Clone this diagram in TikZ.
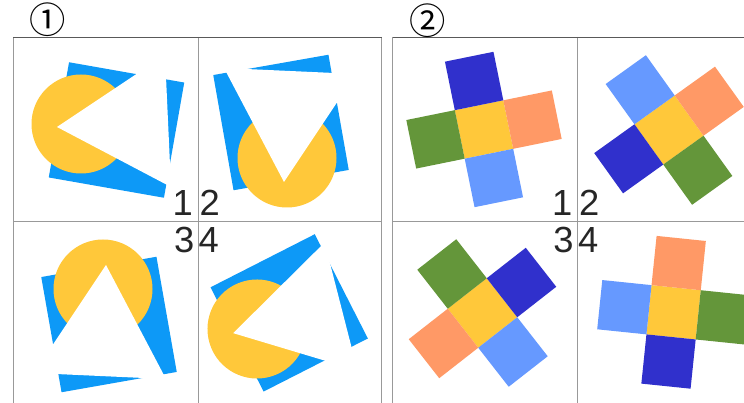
\documentclass[tikz,border=0pt]{standalone}
\usepackage{fontspec}
\setmainfont{Liberation Sans}
\newfontfamily\circfont{Noto Sans CJK JP}
\usetikzlibrary{positioning}
\definecolor{skyb}{HTML}{0D99F7}
\definecolor{sun}{HTML}{FFC83A}
\definecolor{dkblue}{HTML}{3030CC}
\definecolor{ltblue}{HTML}{6699FF}
\definecolor{peach}{HTML}{FF9966}
\definecolor{leaf}{HTML}{64963A}
\newcommand{\pacfig}{%
\fill[skyb] (-11.95,-61.75) -- (103.25,-41.45) -- (82.95,73.75) -- (-32.25,53.45) -- cycle;
\fill[sun] (0,0) circle (49.5);
\fill[white] (-24,3) -- (84,-69) -- (90,63) -- cycle;}
\newcommand{\crossfig}[4]{%
\fill[sun] (-24.75,-24.75) rectangle (24.75,24.75);
\fill[#1] (24.75,-24.75) rectangle (74.25,24.75); \fill[#2] (-24.75,24.75) rectangle (24.75,74.25);
\fill[#3] (-74.25,-24.75) rectangle (-24.75,24.75); \fill[#4] (-24.75,-74.25) rectangle (24.75,-24.75);}

\begin{document}
\begin{tikzpicture}[x=0.03cm,y=-0.03cm]
\tikzstyle{frame}=[draw=black!65,line width=0.8pt]
\tikzstyle{grid}=[draw=black!40,line width=0.8pt]
\tikzstyle{num}=[inner sep=0pt,text=black!85,font=\fontsize{31}{31}\selectfont]
\tikzstyle{circnum}=[inner sep=0pt,font=\circfont\fontsize{31}{31}\selectfont]
\useasboundingbox[fill=white] (0,0) rectangle (744,403);
\begin{scope}[shift={(81,124)}]\pacfig\end{scope}
\begin{scope}[shift={(287,158)},rotate=90,yscale=-1]\pacfig\end{scope}
\begin{scope}[shift={(103,289)},rotate=-90,yscale=-1]\pacfig\end{scope}
\begin{scope}[shift={(257,329)},rotate=17,yscale=-1]\pacfig\end{scope}
\begin{scope}[shift={(484,129.5)},rotate=11.5]\crossfig{peach}{ltblue}{leaf}{dkblue}\end{scope}
\begin{scope}[shift={(669,130)},rotate=35.6]\crossfig{peach}{leaf}{dkblue}{ltblue}\end{scope}
\begin{scope}[shift={(482.5,313)},rotate=38]\crossfig{dkblue}{ltblue}{peach}{leaf}\end{scope}
\begin{scope}[shift={(673.6,312.3)},rotate=-5.9]\crossfig{leaf}{dkblue}{ltblue}{peach}\end{scope}
\draw[grid] (13,37) -- (13,403); \draw[grid] (381.5,37) -- (381.5,403); \draw[grid] (198,37) -- (198,403); \draw[grid] (13,221.5) -- (381.5,221.5);
\draw[grid] (392.5,37) -- (392.5,403); \draw[grid] (577.3,37) -- (577.3,403); \draw[grid] (392.5,221.5) -- (744,221.5);
\draw[frame] (13,37) -- (381.5,37); \draw[frame] (392.5,37) -- (744,37);
\node[circnum] (p1) at (48,20) {①}; \node[circnum] (p2) at (428,21) {②};
\node[num,anchor=base east] (a1) at (193,216) {1}; \node[num,anchor=base west] (a2) at (199.5,216) {2};
\node[num,anchor=base east] (a3) at (194.5,253) {3}; \node[num,anchor=base west] (a4) at (198.5,253) {4};
\node[num,anchor=base east] (b1) at (572.5,216) {1}; \node[num,anchor=base west] (b2) at (578.8,216) {2};
\node[num,anchor=base east] (b3) at (573.8,253) {3}; \node[num,anchor=base west] (b4) at (577.8,253) {4};
\end{tikzpicture}
\end{document}
